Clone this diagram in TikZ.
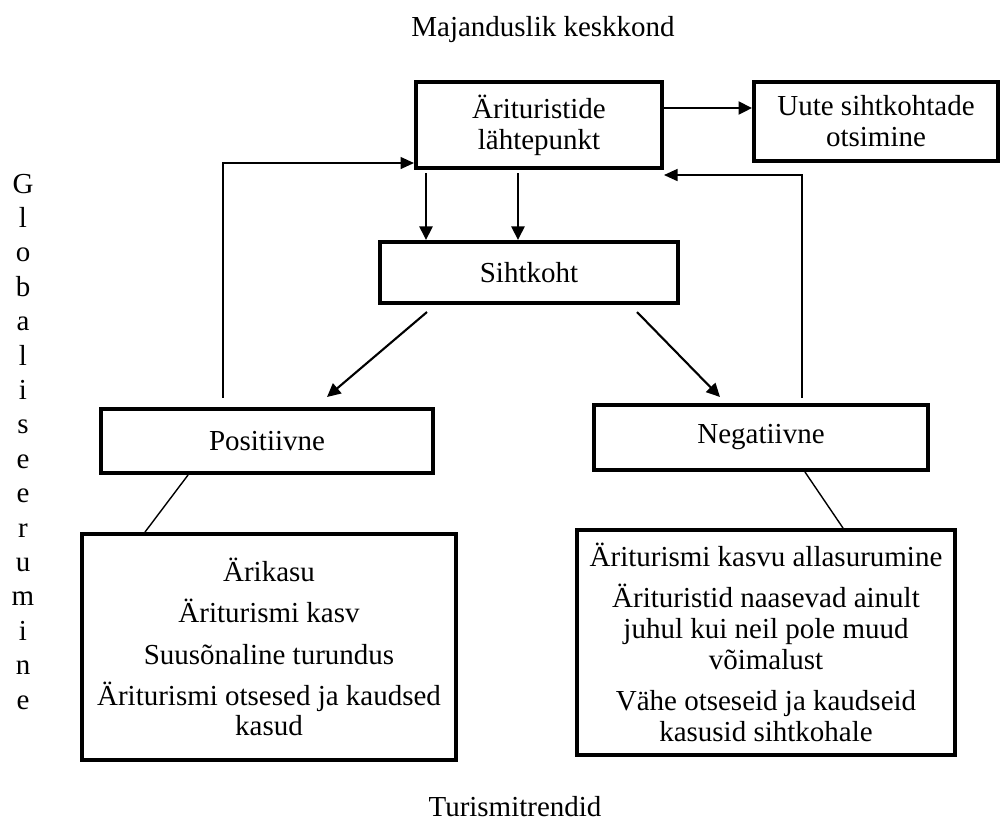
\documentclass[tikz,border=0pt]{standalone}
\usepackage{fontspec}
\setmainfont{Liberation Serif}
\usetikzlibrary{arrows.meta}

\begin{document}
\begin{tikzpicture}[x=0.02cm, y=-0.02cm, every node/.append style={text=black, font=\fontsize{16.5}{17.6}\selectfont},
	box/.style={draw=black, line width=2.3pt, align=center, inner sep=0pt},
	arr/.style={-{Triangle[length=0.27cm, width=0.26cm]}, line width=1.2pt},
	fb/.style={-{Triangle[length=0.27cm, width=0.24cm]}, line width=0.8pt},
	link/.style={line width=0.8pt}]
	\useasboundingbox (0,0) rectangle (1006,822);
	
	\node[anchor=base] (econ) at (543,36) {Majanduslik keskkond};
	\node[anchor=base] (trend) at (515,816) {Turismitrendid};
	\foreach \l [count=\i] in {G,l,o,b,a,l,i,s,e,e,r,u,m,i,n,e}
	{
		\node[anchor=base] (glob\i) at (23, {193+34.4*(\i-1)}) {\l};
	}
	
	\node[box, minimum width=4.92cm, minimum height=1.72cm] (top) at (539,125) {Ärituristide\\lähtepunkt};
	\node[box, minimum width=4.88cm, minimum height=1.58cm] (uute) at (876,121.5) {Uute sihtkohtade\\otsimine};
	\node[box, minimum width=5.96cm, minimum height=1.22cm] (sih) at (529,272.5) {Sihtkoht};
	\node[box, minimum width=6.64cm, minimum height=1.28cm] (pos) at (267,441) {Positiivne};
	\node[box, minimum width=6.68cm, minimum height=1.3cm] (neg) at (761,437.5) {Negatiivne};
	\node[box, minimum width=7.48cm, minimum height=4.52cm] (posbox) at (269,647) {Ärikasu\\[0.2cm]Äriturismi kasv\\[0.22cm]Suusõnaline turundus\\[0.2cm]Äriturismi otsesed ja kaudsed\\kasud};
	\node[box, minimum width=7.56cm, minimum height=4.5cm] (negbox) at (766,642.5) {Äriturismi kasvu allasurumine\\[0.2cm]Ärituristid naasevad ainult\\juhul kui neil pole muud\\võimalust\\[0.2cm]Vähe otseseid ja kaudseid\\kasusid sihtkohale};
	
	\draw[arr] ([yshift=0.34cm]top.east) -- ([yshift=0.34cm]top.east -| uute.west);
	\draw[fb] ([shift={(41,-5)}]neg.north) |- ([yshift=-0.1cm]top.south east);
	\draw[fb] ([shift={(-44,-9)}]pos.north) |- ([yshift=0.14cm]top.south west);
	
	\foreach \dx in {0.24cm, 2.08cm}
	{
		\draw[arr, shorten <=0.06cm] ([xshift=\dx]top.south west) -- ([xshift=\dx]top.south west |- sih.north);
	}
	
	\draw[arr] ([shift={(49,7)}]sih.south west) -- ([shift={(60,-10)}]pos.north);
	\draw[arr] ([shift={(-43,7)}]sih.south east) -- ([shift={(-41,-6)}]neg.north);
	
	\draw[link] ([xshift=-1.58cm]pos.south) -- ([xshift=-2.48cm]posbox.north);
	\draw[link] ([xshift=0.88cm]neg.south) -- ([xshift=1.54cm]negbox.north);
\end{tikzpicture}
\end{document}
